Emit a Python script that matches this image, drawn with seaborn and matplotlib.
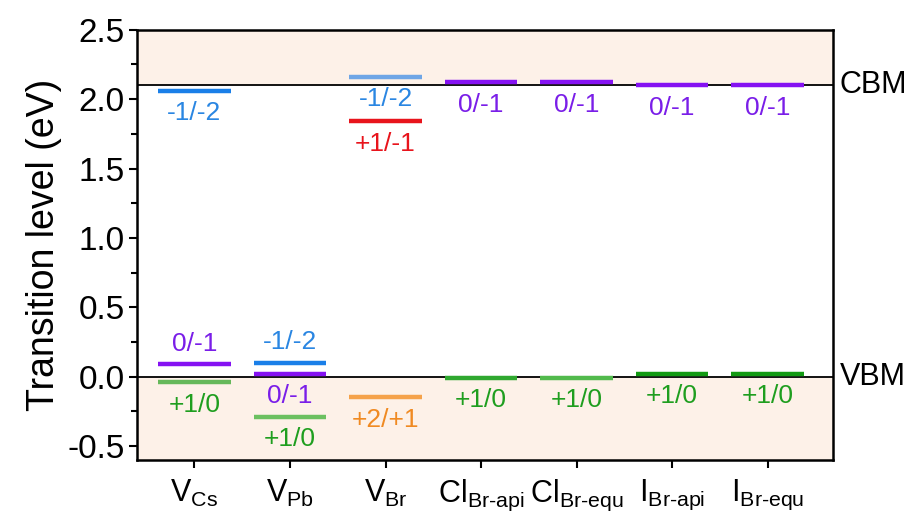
import matplotlib
matplotlib.use("Agg")
import matplotlib.pyplot as plt
from matplotlib.ticker import MultipleLocator
import seaborn as sns
import pandas as pd

# Defects on the x axis (mathtext subscripts)
defects = [r"V$_{\mathrm{Cs}}$", r"V$_{\mathrm{Pb}}$", r"V$_{\mathrm{Br}}$",
           r"Cl$_{\mathrm{Br\text{-}api}}$", r"Cl$_{\mathrm{Br\text{-}equ}}$",
           r"I$_{\mathrm{Br\text{-}api}}$", r"I$_{\mathrm{Br\text{-}equ}}$"]

# Band edges (eV)
vbm = 0.0
cbm = 2.10

# Charge transition levels: defect index, energy (eV), label
level_defect = [0, 0, 0, 1, 1, 1, 2, 2, 2, 3, 3, 4, 4, 5, 5, 6, 6]
level_energy = [2.06, 0.09, -0.04, 0.10, 0.02, -0.29, 2.16, 1.84, -0.15,
                2.12, -0.01, 2.12, -0.01, 2.10, 0.02, 2.10, 0.02]
level_label = ["-1/-2", "0/-1", "+1/0", "-1/-2", "0/-1", "+1/0",
               "-1/-2", "+1/-1", "+2/+1", "0/-1", "+1/0", "0/-1", "+1/0",
               "0/-1", "+1/0", "0/-1", "+1/0"]
label_side = ["below", "above", "below", "above", "below", "below",
              "below", "below", "below", "below", "below", "below", "below",
              "below", "below", "below", "below"]
bar_color = ["#1a7fe8", "#8512f2", "#66b85a", "#1a7fe8", "#8512f2", "#6cc060",
             "#6fa6e6", "#e8141c", "#f5a24a", "#8512f2", "#2fa82f", "#8512f2",
             "#52ba4c", "#8512f2", "#129a12", "#8512f2", "#129a12"]
text_color = {"-1/-2": "#2a86e2", "0/-1": "#7a1ee8", "+1/0": "#1f9e1f",
              "+1/-1": "#e8141c", "+2/+1": "#f08a22"}

df = pd.DataFrame({"defect": level_defect, "energy": level_energy,
                   "label": level_label, "side": label_side, "color": bar_color})

sns.set_theme(style="ticks")
plt.rcParams["font.family"] = ["Liberation Sans", "DejaVu Sans"]
plt.rcParams["mathtext.fontset"] = "custom"
plt.rcParams["mathtext.rm"] = "Liberation Sans"
plt.rcParams["mathtext.it"] = "Liberation Sans:italic"
plt.rcParams["text.color"] = "black"
plt.rcParams["axes.labelcolor"] = "black"
plt.rcParams["xtick.color"] = "black"
plt.rcParams["ytick.color"] = "black"

fig, ax = plt.subplots(figsize=(9.14, 5.22), dpi=100)
fig.subplots_adjust(left=0.150, right=0.911, top=0.943, bottom=0.119)

ymin, ymax = -0.6, 2.5
xmin, xmax = -0.6, 6.68
ax.set_xlim(xmin, xmax)
ax.set_ylim(ymin, ymax)

# Shaded band regions
shade = "#fdf1e8"
ax.axhspan(cbm, ymax, color=shade, zorder=0, lw=0)
ax.axhspan(ymin, vbm, color=shade, zorder=0, lw=0)
ax.axhline(cbm, color="black", lw=1.3, zorder=1)
ax.axhline(vbm, color="black", lw=1.3, zorder=1)

half = 0.38
for _, r in df.iterrows():
    ax.hlines(r["energy"], r["defect"] - half, r["defect"] + half,
              colors=r["color"], lw=3.2, zorder=3)
    if r["side"] == "below":
        off, va = -7.5, "top"
    else:
        off, va = 6, "bottom"
    ax.annotate(r["label"], (r["defect"], r["energy"]), xytext=(0, off),
                textcoords="offset points", ha="center", va=va,
                fontsize=19, color=text_color[r["label"]], zorder=4)

ax.text(1.01, cbm, "CBM", transform=ax.get_yaxis_transform(),
        ha="left", va="center", fontsize=22)
ax.text(1.01, vbm, "VBM", transform=ax.get_yaxis_transform(),
        ha="left", va="center", fontsize=22)

ax.set_xticks(range(len(defects)))
ax.set_xticklabels(defects, fontsize=22)
ax.yaxis.set_major_locator(MultipleLocator(0.5))
ax.yaxis.set_minor_locator(MultipleLocator(0.25))
ax.set_yticklabels([f"{v:.1f}" for v in ax.get_yticks()], fontsize=24)
ax.set_ylabel("Transition level (eV)", fontsize=27, labelpad=4)

ax.tick_params(axis="both", which="major", direction="out", length=6,
               width=1.5, color="black", pad=3)
ax.tick_params(axis="x", which="major", pad=7)
ax.tick_params(axis="y", which="minor", direction="out", length=4,
               width=1.5, color="black")
for s in ax.spines.values():
    s.set_visible(True)
    s.set_linewidth(1.8)
    s.set_color("black")

fig.savefig("out.png", dpi=100)
